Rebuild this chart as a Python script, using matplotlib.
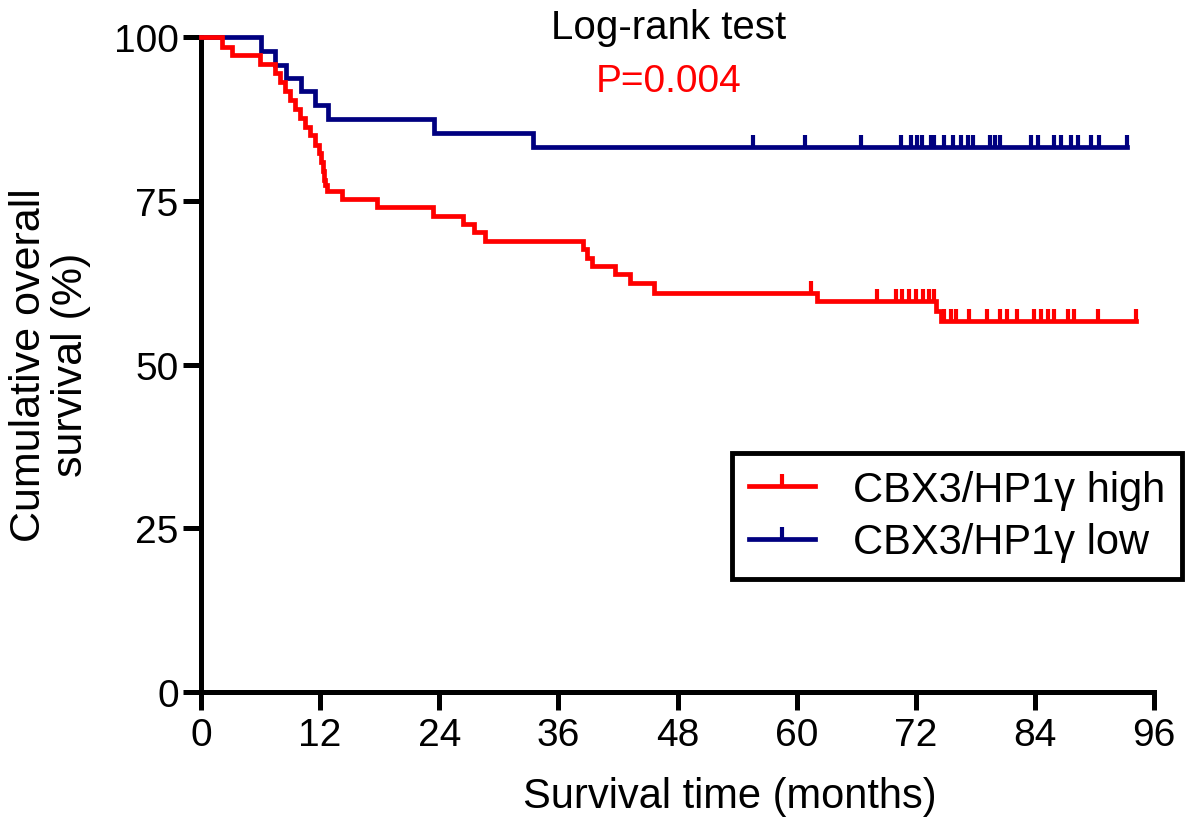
import numpy as np
import matplotlib
matplotlib.use("Agg")
import matplotlib.pyplot as plt
from matplotlib.path import Path
from matplotlib.lines import Line2D

plt.rcParams['font.family'] = ['Liberation Sans', 'DejaVu Sans']

# ---- data (months, survival %) ----
high_times = [0, 2.1, 3.1, 5.9, 7.5, 8.0, 8.5, 9.0, 9.5, 10.0, 10.5, 11.0, 11.5,
              11.86, 12.13, 12.3, 12.43, 12.53, 12.7, 14.2, 17.7, 23.4, 26.4,
              27.5, 28.6, 38.5, 38.9, 39.4, 41.7, 43.2, 45.6, 62.0, 74.0, 74.5]
high_surv = [100, 98.5, 97.2, 95.9, 94.5, 93.2, 91.8, 90.4, 89.1, 87.7, 86.3,
             85.0, 83.6, 82.3, 80.9, 79.5, 78.2, 77.4, 76.5, 75.3, 74.0, 72.7,
             71.4, 70.2, 68.9, 67.6, 66.3, 65.1, 63.8, 62.5, 61.0, 59.7, 58.2, 56.6]
high_end = 94.2
high_censor = [61.4, 68.1, 70.0, 70.6, 71.3, 72.0, 72.7, 73.3, 73.8,
               74.8, 75.5, 76.0, 77.4, 79.2, 80.5, 81.2, 82.2, 83.9, 84.6,
               85.3, 85.9, 87.3, 87.9, 90.3, 94.2]

low_times = [0, 6.0, 7.5, 8.6, 10.1, 11.5, 12.8, 23.5, 33.4]
low_surv = [100, 97.9, 95.8, 93.8, 91.7, 89.6, 87.5, 85.4, 83.3]
low_end = 93.3
low_censor = [55.6, 60.8, 66.5, 70.5, 71.5, 72.1, 72.6, 73.5, 73.8, 74.8,
              75.7, 76.5, 77.3, 77.8, 79.5, 80.0, 80.5, 83.6, 84.3, 85.9,
              86.6, 87.6, 88.3, 89.6, 90.4, 93.3]

labels = ["CBX3/HP1\u03b3 high", "CBX3/HP1\u03b3 low"]
colors = ["#ff0000", "#000080"]

# upward tick used as censor mark
tick = Path([(0, 0), (0, 1)], [Path.MOVETO, Path.LINETO])


def surv_at(t, times, surv):
    idx = np.searchsorted(times, t, side="right") - 1
    return np.asarray(surv)[idx]


fig = plt.figure(figsize=(11.96, 8.29), dpi=100)
ax = fig.add_axes([0.168, 0.164, 0.797, 0.790])

# low group first so the high curve sits on top
for times, surv, end, cens, col in [
        (low_times, low_surv, low_end, low_censor, colors[1]),
        (high_times, high_surv, high_end, high_censor, colors[0])]:
    tt = list(times) + [end]
    ss = list(surv) + [surv[-1]]
    ax.step(tt, ss, where="post", color=col, lw=3.4, clip_on=False,
            solid_joinstyle="miter", zorder=3)
    cy = [surv_at(c, times, surv) for c in cens]
    ax.plot(cens, cy, ls="none", marker=tick, ms=18, mew=3, color=col,
            clip_on=False, zorder=3)

ax.set_xlim(0, 96)
ax.set_ylim(0, 100)
ax.set_xticks(np.arange(0, 97, 12))
ax.set_yticks([0, 25, 50, 75, 100])

for s in ["top", "right"]:
    ax.spines[s].set_visible(False)
for s in ["left", "bottom"]:
    ax.spines[s].set_linewidth(3.6)
ax.tick_params(axis="both", width=3.6, length=13, labelsize=28)
ax.tick_params(axis="x", pad=5)
ax.tick_params(axis="y", pad=3)

# axis titles placed to match the original layout
fig.text(0.610, 0.039, "Survival time (months)", fontsize=30,
         ha="center", va="center")
fig.text(0.042, 0.56, "Cumulative overall\nsurvival (%)", fontsize=31,
         ha="center", va="center", rotation=90, linespacing=1.05)

fig.text(0.559, 0.966, "Log-rank test", fontsize=29, ha="center", va="center")
fig.text(0.559, 0.901, "P=0.004", fontsize=28, ha="center", va="center",
         color="#ff0000")

handles = [Line2D([], [], color=c, lw=3.4, marker=tick, ms=18, mew=3)
           for c in colors]
leg = ax.legend(handles, labels, loc="lower right", bbox_to_anchor=(1.029, 0.1725),
                fontsize=30, frameon=True, fancybox=False, framealpha=1,
                handlelength=1.6, handletextpad=0.9, borderpad=0.4,
                labelspacing=0.3, borderaxespad=0)
leg.get_frame().set_edgecolor("black")
leg.get_frame().set_linewidth(3.5)

fig.savefig("out.png", dpi=100)
